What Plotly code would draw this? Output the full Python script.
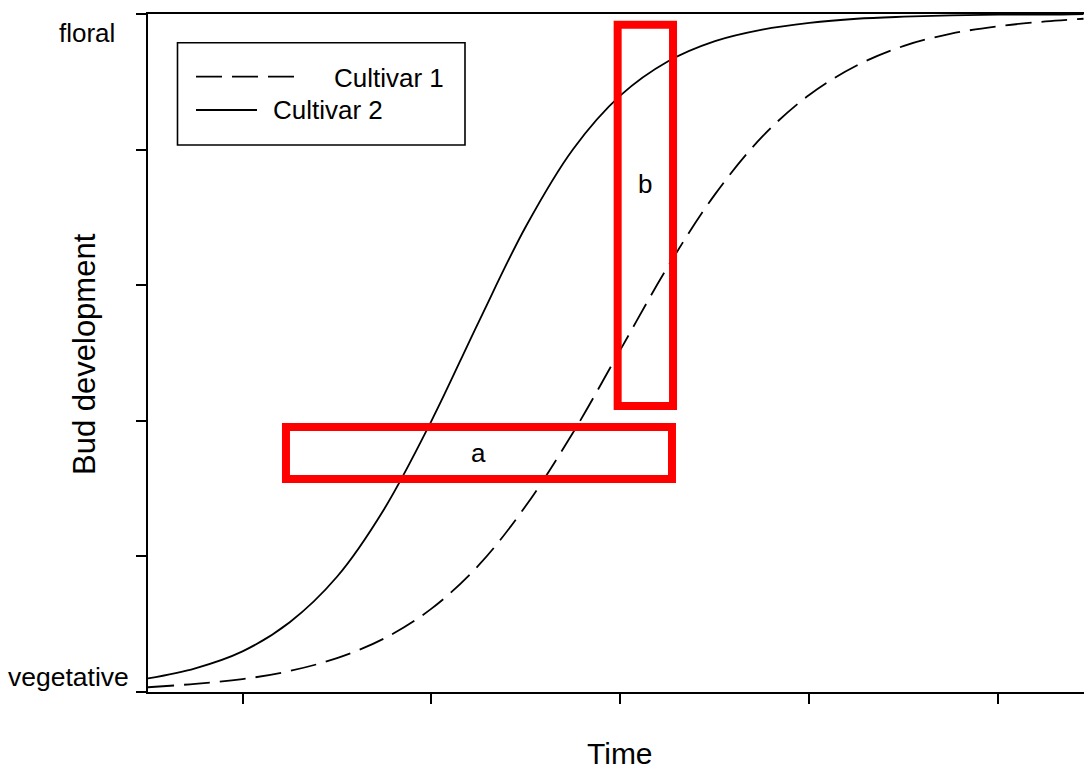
import plotly.graph_objects as go

# Time axis positions (arbitrary units) and bud development scores (0 = vegetative, 1 = floral)
time = [1.0, 1.5, 2.0, 2.5, 3.0, 3.5, 4.0, 4.5, 5.0, 5.5, 6.0, 6.5, 7.0,
        7.5, 8.0, 8.5, 9.0, 9.5, 10.0, 10.5, 10.9]
cultivar_1 = [0.007, 0.012, 0.019, 0.031, 0.050, 0.079, 0.123, 0.187, 0.275,
              0.383, 0.505, 0.627, 0.734, 0.819, 0.881, 0.924, 0.953, 0.971,
              0.982, 0.989, 0.993]
cultivar_2 = [0.020, 0.035, 0.060, 0.103, 0.170, 0.270, 0.400, 0.546, 0.687,
              0.801, 0.880, 0.930, 0.960, 0.977, 0.987, 0.993, 0.996, 0.998,
              0.999, 0.999, 1.000]

# Highlighted regions: a = horizontal (time) gap, b = vertical (development) gap
region_a_x = [2.46, 6.545]
region_a_y = [0.314, 0.391]
region_b_x = [5.97, 6.556]
region_b_y = [0.422, 0.984]

x_ticks = [2, 4, 6, 8, 10]
y_ticks = [0, 0.2, 0.4, 0.6, 0.8, 1.0]
x_range = [1.0, 10.905]
y_range = [0.0, 1.0]

W, H = 1084, 771
ML, MR, MT, MB = 148, 0, 14, 79
PW, PH = W - ML - MR, H - MT - MB
FONT = "Arial, Liberation Sans, sans-serif"
DASH = "26px,10px"


def to_paper(px, py):
    """Convert figure pixel coordinates into paper coordinates."""
    return (px - ML) / PW, (H - MB - py) / PH


fig = go.Figure()
fig.add_trace(go.Scatter(x=time, y=cultivar_1, mode="lines", name="Cultivar 1",
                         line=dict(color="black", width=1.8, dash=DASH, shape="spline"),
                         showlegend=False))
fig.add_trace(go.Scatter(x=time, y=cultivar_2, mode="lines", name="Cultivar 2",
                         line=dict(color="black", width=1.8, shape="spline"),
                         showlegend=False))

shapes = []
for xs, ys in [(region_a_x, region_a_y), (region_b_x, region_b_y)]:
    shapes.append(dict(type="rect", xref="x", yref="y", x0=xs[0], x1=xs[1],
                       y0=ys[0], y1=ys[1], line=dict(color="#ff0000", width=8),
                       fillcolor="rgba(0,0,0,0)", layer="above"))

# Legend frame and line samples
lx0, ly0 = to_paper(177.5, 145)
lx1, ly1 = to_paper(465, 42.7)
shapes.append(dict(type="rect", xref="paper", yref="paper", x0=lx0, x1=lx1,
                   y0=ly0, y1=ly1, line=dict(color="black", width=1.6)))
sx0, sy1 = to_paper(196, 76.7)
sx1, _ = to_paper(296, 76.7)
shapes.append(dict(type="line", xref="paper", yref="paper", x0=sx0, x1=sx1,
                   y0=sy1, y1=sy1, line=dict(color="black", width=1.8, dash=DASH)))
sx0, sy2 = to_paper(196, 110)
sx1, _ = to_paper(257, 110)
shapes.append(dict(type="line", xref="paper", yref="paper", x0=sx0, x1=sx1,
                   y0=sy2, y1=sy2, line=dict(color="black", width=1.8)))

annotations = []


def label(text, px, py, size, xanchor="center", yanchor="middle", angle=0):
    x, y = to_paper(px, py)
    annotations.append(dict(text=text, xref="paper", yref="paper", x=x, y=y,
                            xanchor=xanchor, yanchor=yanchor, showarrow=False,
                            textangle=angle, borderpad=0,
                            font=dict(family=FONT, size=size, color="black")))


label("Cultivar 1", 333, 77.7, 26, xanchor="left")
label("Cultivar 2", 272, 110, 26, xanchor="left")
label("floral", 116, 33, 26, xanchor="right")
label("vegetative", 130, 677, 26.5, xanchor="right")
label("Time", 620, 771, 30, yanchor="bottom")
label("Bud development", 84, 354, 31, angle=-90)

annotations.append(dict(text="a", xref="x", yref="y",
                        x=sum(region_a_x) / 2, y=sum(region_a_y) / 2,
                        showarrow=False, font=dict(family=FONT, size=26, color="black")))
annotations.append(dict(text="b", xref="x", yref="y",
                        x=sum(region_b_x) / 2, y=0.75,
                        showarrow=False, font=dict(family=FONT, size=26, color="black")))

axis_common = dict(showgrid=False, zeroline=False, showticklabels=False,
                   ticks="outside", ticklen=10, tickwidth=2, tickcolor="black",
                   showline=True, linecolor="black", linewidth=2)

fig.update_layout(
    width=W, height=H,
    margin=dict(l=ML, r=MR, t=MT, b=MB, autoexpand=False),
    paper_bgcolor="white", plot_bgcolor="white",
    xaxis=dict(range=x_range, tickvals=x_ticks, mirror=True, **axis_common),
    yaxis=dict(range=y_range, tickvals=y_ticks, **axis_common),
    shapes=shapes, annotations=annotations,
    showlegend=False,
)

fig.write_html("out.html")
